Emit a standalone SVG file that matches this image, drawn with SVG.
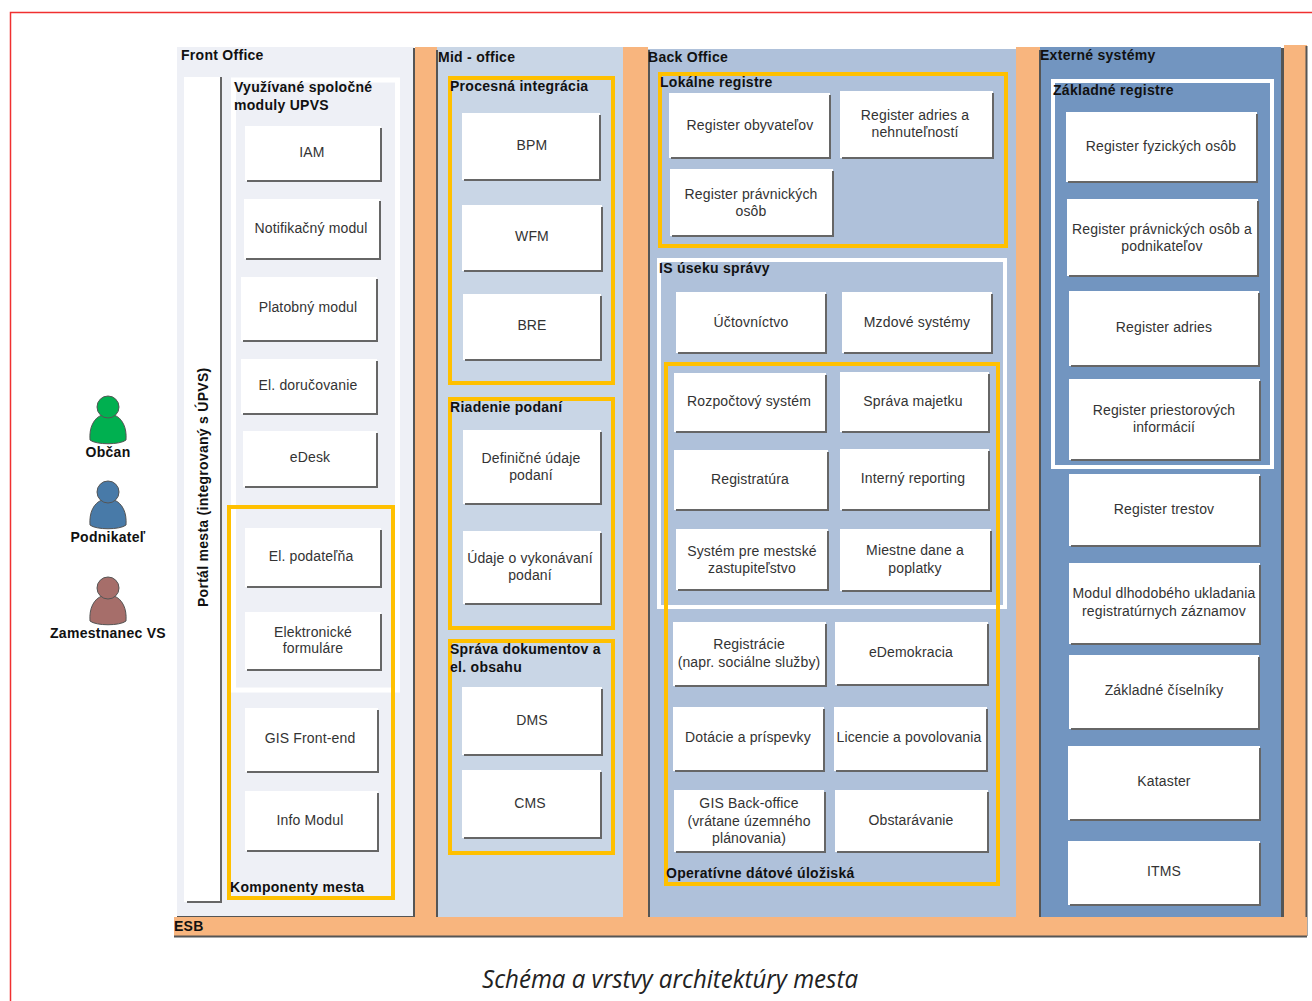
<svg xmlns="http://www.w3.org/2000/svg" width="1312" height="1001" viewBox="0 0 1312 1001">
<defs><style>
text{font-family:"Liberation Sans",Arial,sans-serif}
.t{font-size:14px;fill:#333;text-anchor:middle;letter-spacing:.15px}
.h{font-size:14px;font-weight:700;fill:#111;letter-spacing:.28px}
.b{fill:#fff}
.s{fill:none;stroke:#666;stroke-width:2}
.y{fill:none;stroke:#ffc000;stroke-width:4}
.w{fill:none;stroke:#fff;stroke-width:4}
.o{fill:#f8b57e}
.e{fill:none;stroke:#555;stroke-width:2}
.p{stroke:#555;stroke-width:1}
</style>
<g id="person"><path d="M-18 33C-19 20-14 11-6 8L6 8C14 11 19 20 18 33C12 38-12 38-18 33Z" class="p"/><circle cx="0" cy="0" r="11" class="p"/></g>
</defs>
<rect width="1312" height="1001" fill="#fff"/>
<path d="M10.500 1001V12.500H1312" fill="none" stroke="#f03030" stroke-width="1.500"/>
<g id="layers">
<rect x="177" y="47" width="237" height="870" fill="#eef0f6"/>
<rect x="437" y="47" width="186" height="870" fill="#c9d6e6"/>
<rect x="648" y="49" width="368" height="868" fill="#afc1da"/>
<rect x="1040" y="47" width="241" height="870" fill="#7295c0"/>
<rect class="o" x="415" y="47" width="22" height="870"/>
<rect class="o" x="623" y="47" width="25" height="870"/>
<rect class="o" x="1016" y="47" width="24" height="870"/>
<rect class="o" x="1284" y="45" width="23" height="872"/>
<path class="e" d="M414 48V917H177M437 50V917M649 50V917M1040 50V917M1306.500 46V936"/>
<path d="M1282.500 48V917" fill="none" stroke="#555" stroke-width="3"/>
</g>
<g id="esb"><rect class="o" x="174" y="917" width="1133" height="19"/><path class="e" d="M174 936.500H1307"/><text class="h" x="174" y="931">ESB</text></g>
<g id="captions">
<text class="h" x="181" y="60">Front Office</text>
<text class="h" x="438" y="62">Mid - office</text>
<text class="h" x="648" y="62">Back Office</text>
<text class="h" x="1040" y="60">Externé systémy</text>
<text x="670" y="988" font-size="25" font-style="italic" text-anchor="middle" fill="#222" style="font-family:'Open Sans',sans-serif" textLength="376" lengthAdjust="spacingAndGlyphs">Schéma a vrstvy architektúry mesta</text>
</g>
<g id="portal"><rect class="b" x="184" y="77" width="37" height="825"/><path class="s" d="M221 77V902H187"/><text class="h" transform="translate(208 607) rotate(-90)">Portál mesta (integrovaný s ÚPVS)</text></g>
<g id="upvs-frame"><rect class="w" x="233.500" y="80" width="164" height="610" style="stroke-width:5"/><text class="h" x="234" y="92">Využívané spoločné</text><text class="h" x="234" y="110">moduly UPVS</text></g>
<g id="komponenty-frame"><rect class="y" x="229" y="507" width="164" height="391"/><text class="h" x="230" y="892">Komponenty mesta</text></g>
<g id="procesna"><rect class="y" x="450" y="78" width="163" height="305"/><text class="h" x="450" y="91">Procesná integrácia</text></g>
<g id="riadenie"><rect class="y" x="450" y="399" width="163" height="229"/><text class="h" x="450" y="412">Riadenie podaní</text></g>
<g id="sprava"><rect class="y" x="450" y="641" width="163" height="212"/><text class="h" x="450" y="654">Správa dokumentov a</text><text class="h" x="450" y="672">el. obsahu</text></g>
<g id="lokalne"><rect class="y" x="660" y="74" width="346" height="172"/><text class="h" x="660" y="87">Lokálne registre</text></g>
<g id="is-frame"><rect class="w" x="659" y="260" width="346" height="347"/><text class="h" x="659" y="273">IS úseku správy</text></g>
<g id="operativne"><rect class="y" x="666" y="364" width="332" height="520"/><text class="h" x="666" y="878">Operatívne dátové úložiská</text></g>
<g id="zakladne"><rect class="w" x="1053" y="81" width="219" height="386"/><text class="h" x="1053" y="95">Základné registre</text></g>

<g id="obcan" fill="#00b050"><use href="#person" x="108" y="407"/><text class="h" x="108" y="457" text-anchor="middle">Občan</text></g>
<g id="podnikatel" fill="#487aa8"><use href="#person" x="108" y="492"/><text class="h" x="108" y="542" text-anchor="middle">Podnikateľ</text></g>
<g id="zamestnanec" fill="#a66e6a"><use href="#person" x="108" y="588"/><text class="h" x="108" y="638" text-anchor="middle">Zamestnanec VS</text></g>

<g id="iam"><rect class="b" x="245" y="126" width="136" height="55"/><path class="s" d="M381 128V181H247"/><text class="t" x="312" y="157">IAM</text></g>
<g id="notifikacny"><rect class="b" x="244" y="199" width="136" height="60"/><path class="s" d="M380 201V259H246"/><text class="t" x="311" y="233">Notifikačný modul</text></g>
<g id="platobny"><rect class="b" x="241" y="277" width="136" height="64"/><path class="s" d="M377 279V341H243"/><text class="t" x="308" y="312">Platobný modul</text></g>
<g id="dorucovanie"><rect class="b" x="241" y="359" width="136" height="55"/><path class="s" d="M377 361V414H243"/><text class="t" x="308" y="390">El. doručovanie</text></g>
<g id="edesk"><rect class="b" x="243" y="431" width="134" height="56"/><path class="s" d="M377 433V487H245"/><text class="t" x="310" y="462">eDesk</text></g>
<g id="podatelna"><rect class="b" x="245" y="528" width="136" height="59"/><path class="s" d="M381 530V587H247"/><text class="t" x="311" y="561">El. podateľňa</text></g>
<g id="formulare"><rect class="b" x="245" y="612" width="136" height="58"/><path class="s" d="M381 614V670H247"/><text class="t" x="313" y="637">Elektronické</text><text class="t" x="313" y="653">formuláre</text></g>
<g id="gis-front"><rect class="b" x="245" y="708" width="133" height="64"/><path class="s" d="M378 710V772H247"/><text class="t" x="310" y="743">GIS Front-end</text></g>
<g id="info"><rect class="b" x="245" y="791" width="133" height="60"/><path class="s" d="M378 793V851H247"/><text class="t" x="310" y="825">Info Modul</text></g>

<g id="bpm"><rect class="b" x="462" y="113" width="138" height="67"/><path class="s" d="M600 115V180H464"/><text class="t" x="532" y="150">BPM</text></g>
<g id="wfm"><rect class="b" x="462" y="205" width="140" height="66"/><path class="s" d="M602 207V271H464"/><text class="t" x="532" y="241">WFM</text></g>
<g id="bre"><rect class="b" x="463" y="294" width="138" height="66"/><path class="s" d="M601 296V360H465"/><text class="t" x="532" y="330">BRE</text></g>
<g id="definicne"><rect class="b" x="463" y="430" width="138" height="74"/><path class="s" d="M601 432V504H465"/><text class="t" x="531" y="463">Definičné údaje</text><text class="t" x="531" y="480">podaní</text></g>
<g id="udaje"><rect class="b" x="463" y="531" width="138" height="73"/><path class="s" d="M601 533V604H465"/><text class="t" x="530" y="563">Údaje o vykonávaní</text><text class="t" x="530" y="580">podaní</text></g>
<g id="dms"><rect class="b" x="462" y="687" width="140" height="68"/><path class="s" d="M602 689V755H464"/><text class="t" x="532" y="725">DMS</text></g>
<g id="cms"><rect class="b" x="462" y="770" width="139" height="68"/><path class="s" d="M601 772V838H464"/><text class="t" x="530" y="808">CMS</text></g>

<g id="reg-obyv"><rect class="b" x="669" y="93" width="161" height="65"/><path class="s" d="M830 95V158H671"/><text class="t" x="750" y="130">Register obyvateľov</text></g>
<g id="reg-adries-nehn"><rect class="b" x="840" y="91" width="153" height="67"/><path class="s" d="M993 93V158H842"/><text class="t" x="915" y="120">Register adries a</text><text class="t" x="915" y="137">nehnuteľností</text></g>
<g id="reg-prav"><rect class="b" x="670" y="169" width="163" height="67"/><path class="s" d="M833 171V236H672"/><text class="t" x="751" y="199">Register právnických</text><text class="t" x="751" y="216">osôb</text></g>
<g id="uctovnictvo"><rect class="b" x="676" y="292" width="150" height="61"/><path class="s" d="M826 294V353H678"/><text class="t" x="751" y="327">Účtovníctvo</text></g>
<g id="mzdove"><rect class="b" x="842" y="292" width="150" height="61"/><path class="s" d="M992 294V353H844"/><text class="t" x="917" y="327">Mzdové systémy</text></g>
<g id="rozpoctovy"><rect class="b" x="674" y="373" width="152" height="59"/><path class="s" d="M826 375V432H676"/><text class="t" x="749" y="406">Rozpočtový systém</text></g>
<g id="majetok"><rect class="b" x="840" y="372" width="149" height="60"/><path class="s" d="M989 374V432H842"/><text class="t" x="913" y="406">Správa majetku</text></g>
<g id="registratura"><rect class="b" x="674" y="450" width="154" height="60"/><path class="s" d="M828 452V510H676"/><text class="t" x="750" y="484">Registratúra</text></g>
<g id="reporting"><rect class="b" x="840" y="449" width="149" height="61"/><path class="s" d="M989 451V510H842"/><text class="t" x="913" y="483">Interný reporting</text></g>
<g id="zastupitelstvo"><rect class="b" x="676" y="529" width="152" height="61"/><path class="s" d="M828 531V590H678"/><text class="t" x="752" y="556">Systém pre mestské</text><text class="t" x="752" y="573">zastupiteľstvo</text></g>
<g id="dane"><rect class="b" x="840" y="529" width="151" height="62"/><path class="s" d="M991 531V591H842"/><text class="t" x="915" y="555">Miestne dane a</text><text class="t" x="915" y="573">poplatky</text></g>
<g id="registracie"><rect class="b" x="673" y="622" width="153" height="64"/><path class="s" d="M826 624V686H675"/><text class="t" x="749" y="649">Registrácie</text><text class="t" x="749" y="667">(napr. sociálne služby)</text></g>
<g id="edemokracia"><rect class="b" x="835" y="622" width="153" height="63"/><path class="s" d="M988 624V685H837"/><text class="t" x="911" y="657">eDemokracia</text></g>
<g id="dotacie"><rect class="b" x="673" y="707" width="151" height="64"/><path class="s" d="M824 709V771H675"/><text class="t" x="748" y="742">Dotácie a príspevky</text></g>
<g id="licencie"><rect class="b" x="834" y="707" width="153" height="64"/><path class="s" d="M987 709V771H836"/><text class="t" x="909" y="742">Licencie a povolovania</text></g>
<g id="gis-back"><rect class="b" x="674" y="790" width="150" height="62"/><path class="s" d="M825 792V852H676"/><text class="t" x="749" y="808">GIS Back-office</text><text class="t" x="749" y="826">(vrátane územného</text><text class="t" x="749" y="843">plánovania)</text></g>
<g id="obstaravanie"><rect class="b" x="835" y="790" width="153" height="62"/><path class="s" d="M988 792V852H837"/><text class="t" x="911" y="825">Obstarávanie</text></g>

<g id="fyz"><rect class="b" x="1066" y="112" width="191" height="70"/><path class="s" d="M1257 114V182H1068"/><text class="t" x="1161" y="151">Register fyzických osôb</text></g>
<g id="prav-pod"><rect class="b" x="1067" y="199" width="191" height="77"/><path class="s" d="M1258 201V276H1069"/><text class="t" x="1162" y="234">Register právnických osôb a</text><text class="t" x="1162" y="251">podnikateľov</text></g>
<g id="adries"><rect class="b" x="1069" y="291" width="190" height="75"/><path class="s" d="M1259 293V366H1071"/><text class="t" x="1164" y="332">Register adries</text></g>
<g id="priestor"><rect class="b" x="1069" y="379" width="191" height="81"/><path class="s" d="M1260 381V460H1071"/><text class="t" x="1164" y="415">Register priestorových</text><text class="t" x="1164" y="432">informácií</text></g>
<g id="trestov"><rect class="b" x="1069" y="474" width="191" height="72"/><path class="s" d="M1260 476V546H1071"/><text class="t" x="1164" y="514">Register trestov</text></g>
<g id="modul"><rect class="b" x="1069" y="563" width="191" height="81"/><path class="s" d="M1260 565V644H1071"/><text class="t" x="1164" y="598">Modul dlhodobého ukladania</text><text class="t" x="1164" y="616">registratúrnych záznamov</text></g>
<g id="ciselniky"><rect class="b" x="1069" y="655" width="190" height="74"/><path class="s" d="M1259 657V729H1071"/><text class="t" x="1164" y="695">Základné číselníky</text></g>
<g id="kataster"><rect class="b" x="1068" y="746" width="192" height="74"/><path class="s" d="M1260 748V820H1070"/><text class="t" x="1164" y="786">Kataster</text></g>
<g id="itms"><rect class="b" x="1068" y="841" width="192" height="64"/><path class="s" d="M1260 843V905H1070"/><text class="t" x="1164" y="876">ITMS</text></g>
</svg>
